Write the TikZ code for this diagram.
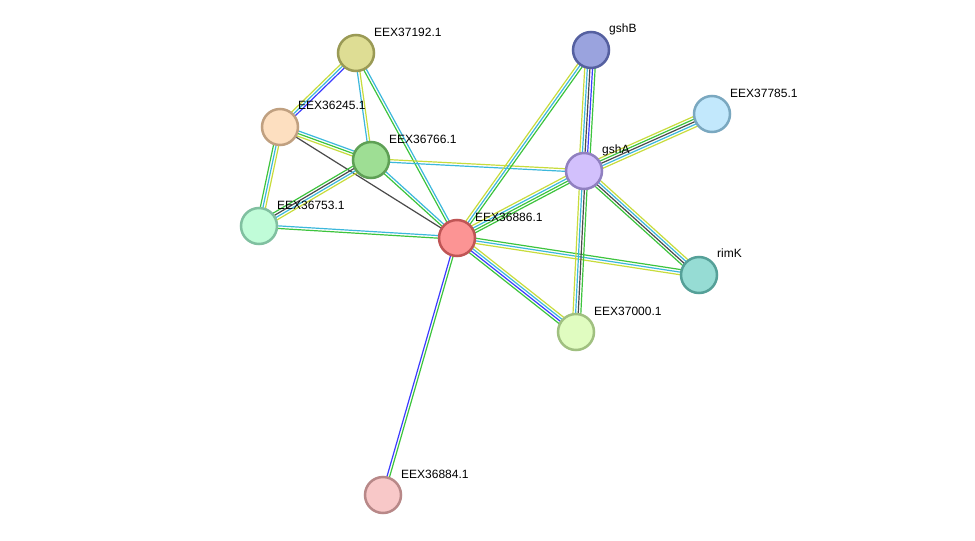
\documentclass[tikz,border=0pt]{standalone}
\usepackage{fontspec}
\setmainfont{Liberation Sans}
\usetikzlibrary{calc}
\pgfdeclarelayer{bgfill}
\pgfdeclarelayer{bg}
\pgfsetlayers{bgfill,bg,main}
\definecolor{eg}{HTML}{3DC43D}
\definecolor{ec}{HTML}{3CB8DC}
\definecolor{ey}{HTML}{C8DC3C}
\definecolor{eb}{HTML}{3C3CFF}
\definecolor{ek}{HTML}{4A4A4A}
\tikzset{
  prot/.style={circle, minimum size=36pt, inner sep=0pt, line width=2.5pt},
  lbl/.style={anchor=base west, inner sep=0pt, font=\fontsize{12}{14}\selectfont},
}
\newcommand\edgeN[4]{%
  \foreach \col [count=\i] in {#4} {%
    \pgfmathsetmacro\off{(\i-(#3+1)/2)*2.6}%
    \draw[line width=1.2pt, color=\col] ($(#1)!\off pt!90:(#2)$) -- ($(#2)!\off pt!-90:(#1)$);
  }%
}
\begin{document}
\begin{tikzpicture}[x=1pt,y=-1pt]
\begin{pgfonlayer}{bgfill}
\fill[white] (0,0) rectangle (975,541);
\end{pgfonlayer}
\useasboundingbox (0,0) rectangle (975,541);
\node[prot, fill={rgb,255:red,222;green,221;blue,148}, draw={rgb,255:red,154;green,154;blue,85}] (n37192) at (356,53) {};
\node[prot, fill={rgb,255:red,154;green,163;blue,222}, draw={rgb,255:red,85;green,96;blue,160}] (gshB) at (591,50) {};
\node[prot, fill={rgb,255:red,194;green,232;blue,252}, draw={rgb,255:red,122;green,168;blue,192}] (n37785) at (712,114) {};
\node[prot, fill={rgb,255:red,253;green,223;blue,192}, draw={rgb,255:red,192;green,160;blue,128}] (n36245) at (280,127) {};
\node[prot, fill={rgb,255:red,158;green,222;blue,148}, draw={rgb,255:red,94;green,160;blue,85}] (n36766) at (371,160) {};
\node[prot, fill={rgb,255:red,210;green,192;blue,252}, draw={rgb,255:red,144;green,128;blue,192}] (gshA) at (584,171) {};
\node[prot, fill={rgb,255:red,192;green,252;blue,216}, draw={rgb,255:red,128;green,192;blue,160}] (n36753) at (259,226) {};
\node[prot, fill={rgb,255:red,252;green,148;blue,148}, draw={rgb,255:red,192;green,85;blue,85}] (n36886) at (457,238) {};
\node[prot, fill={rgb,255:red,150;green,220;blue,212}, draw={rgb,255:red,85;green,160;blue,152}] (rimK) at (699,275) {};
\node[prot, fill={rgb,255:red,224;green,252;blue,192}, draw={rgb,255:red,160;green,192;blue,128}] (n37000) at (576,332) {};
\node[prot, fill={rgb,255:red,248;green,200;blue,200}, draw={rgb,255:red,184;green,136;blue,136}] (n36884) at (383,495) {};

\node[lbl] (l37192) at (374,36) {EEX37192.1};
\node[lbl] (lgshB) at (609,32) {gshB};
\node[lbl] (l37785) at (730,97) {EEX37785.1};
\node[lbl] (l36245) at (298,109) {EEX36245.1};
\node[lbl] (l36766) at (389,143) {EEX36766.1};
\node[lbl] (lgshA) at (602,153) {gshA};
\node[lbl] (l36753) at (277,209) {EEX36753.1};
\node[lbl] (l36886) at (475,221) {EEX36886.1};
\node[lbl] (lrimK) at (717,257) {rimK};
\node[lbl] (l37000) at (594,315) {EEX37000.1};
\node[lbl] (l36884) at (401,478) {EEX36884.1};

\begin{pgfonlayer}{bg}
\edgeN{n37192}{n36245}{3}{ey,ec,eb}
\edgeN{n37192}{n36766}{2}{ec,ey}
\edgeN{n37192}{n36886}{2}{eg,ec}
\edgeN{n36245}{n36766}{3}{ey,eg,ec}
\edgeN{n36245}{n36753}{3}{eg,ec,ey}
\edgeN{n36245}{n36886}{1}{ek}
\edgeN{n36766}{n36753}{4}{eg,ek,ec,ey}
\edgeN{n36766}{n36886}{2}{eg,ec}
\edgeN{n36766}{gshA}{2}{ec,ey}
\edgeN{n36753}{n36886}{2}{eg,ec}
\edgeN{n36886}{gshB}{3}{eg,ec,ey}
\edgeN{n36886}{gshA}{4}{eg,eg,ec,ey}
\edgeN{n36886}{rimK}{3}{ey,ec,eg}
\edgeN{n36886}{n37000}{4}{eg,eb,ec,ey}
\edgeN{n36886}{n36884}{2}{eb,eg}
\edgeN{gshB}{gshA}{5}{ey,ec,ek,eb,eg}
\edgeN{gshA}{n37785}{5}{ey,ec,ek,eg,ey}
\edgeN{gshA}{rimK}{4}{eg,ek,ec,ey}
\edgeN{gshA}{n37000}{4}{ey,ec,ek,eg}
\end{pgfonlayer}
\end{tikzpicture}
\end{document}
